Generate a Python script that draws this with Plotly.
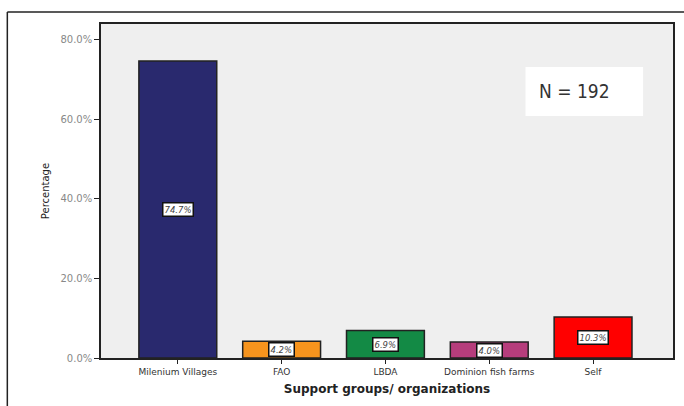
import plotly.graph_objects as go

categories = ["Milenium Villages", "FAO", "LBDA", "Dominion fish farms", "Self"]
values = [74.7, 4.2, 6.9, 4.0, 10.3]
colors = ["#29296e", "#f7941d", "#138a45", "#b63d7c", "#ff0000"]
tick_vals = [0, 20, 40, 60, 80]
tick_text = ["0.0%", "20.0%", "40.0%", "60.0%", "80.0%"]

W, H = 684, 406
L, R, T, B = 101, 9, 24, 48
pw, ph = W - L - R, H - T - B

def px(x):
    return (x - L) / pw

def py(y):
    return (H - B - y) / ph

fig = go.Figure(go.Bar(
    x=list(range(len(categories))), y=values,
    marker=dict(color=colors, line=dict(color="#222222", width=1.5)),
    width=0.75, hoverinfo="skip",
))

for i, v in enumerate(values):
    fig.add_annotation(x=i, y=v / 2, text=f"<i>{v:.1f}%</i>", showarrow=False,
                       font=dict(size=8.5, color="#444444", family="DejaVu Sans"),
                       bgcolor="white", bordercolor="#111111", borderwidth=1.5, borderpad=1)

fig.add_shape(type="rect", xref="paper", yref="paper", x0=px(527), x1=px(645), y0=py(116), y1=py(67),
              fillcolor="white", line=dict(width=0), layer="above")
fig.add_annotation(xref="paper", yref="paper", x=px(539), y=py(91), text="N = 192",
                   showarrow=False, font=dict(size=19, color="#333333", family="Liberation Sans Narrow, DejaVu Sans Condensed, Liberation Sans"),
                   xanchor="left", yanchor="middle")

# outer frame
fig.add_shape(type="line", xref="paper", yref="paper", x0=px(7), x1=px(700), y0=py(12), y1=py(12),
              line=dict(color="#222222", width=1.5))
fig.add_shape(type="line", xref="paper", yref="paper", x0=px(7), x1=px(7), y0=py(12), y1=py(420),
              line=dict(color="#222222", width=1.5))

fig.update_layout(
    width=W, height=H,
    margin=dict(l=L, r=R, t=T, b=B),
    paper_bgcolor="white", plot_bgcolor="#efefef",
    showlegend=False,
    xaxis=dict(range=[-0.74, 4.77], tickvals=list(range(len(categories))), ticktext=categories,
               tickfont=dict(size=9, color="#333333", family="DejaVu Sans"),
               showline=True, linecolor="#222222", linewidth=1.5, mirror=True,
               ticks="outside", ticklen=4, tickcolor="#222222", showgrid=False,
               title=dict(text="<b>Support groups/ organizations</b>", standoff=9,
                          font=dict(size=12, color="#222222", family="DejaVu Sans"))),
    yaxis=dict(range=[0, 84], tickvals=tick_vals, ticktext=tick_text,
               tickfont=dict(size=10, color="#888888", family="DejaVu Sans"),
               showline=True, linecolor="#222222", linewidth=1.5, mirror=True,
               ticks="outside", ticklen=5, tickcolor="#222222", showgrid=False, zeroline=False,
               title=dict(text="Percentage", standoff=9,
                          font=dict(size=10, color="#222222", family="DejaVu Sans"))),
)

fig.write_html("out.html", config={"displayModeBar": False},
               post_script="document.body.style.margin='0';")
